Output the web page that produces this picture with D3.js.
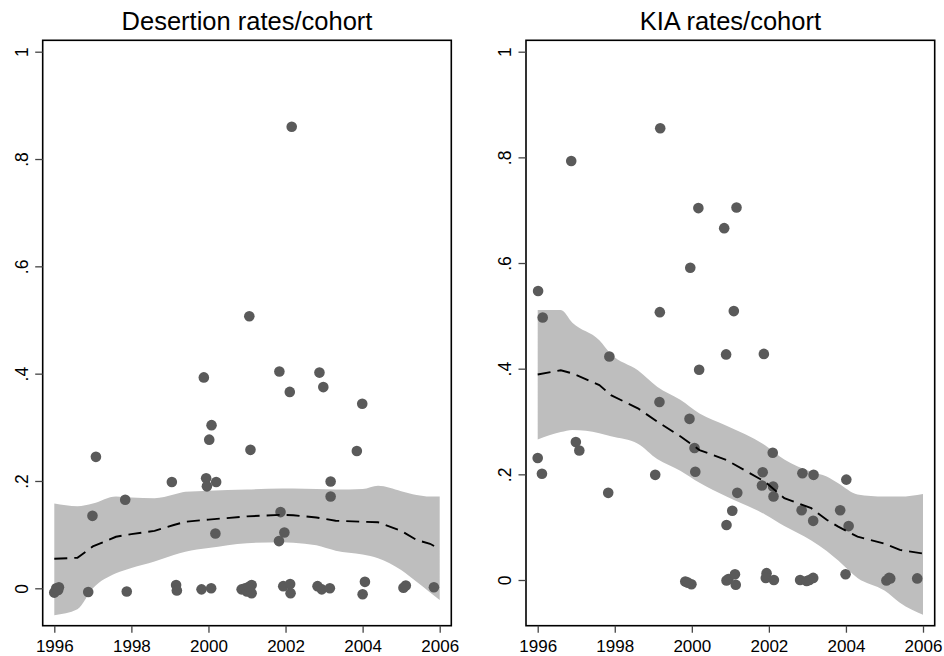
<!DOCTYPE html>
<html>
<head>
<meta charset="utf-8">
<script src="https://cdn.jsdelivr.net/npm/d3@7"></script>
<style>
  html, body { margin: 0; padding: 0; background: #fff; }
  svg { display: block; }
  text { font-family: "Liberation Sans", Arial, Helvetica, sans-serif; fill: #000; }
</style>
</head>
<body>
<svg id="chart" width="944" height="656"></svg>
<script>
// ---- Data: cohort rates by year of enlistment ----
const desertionYear = [
  2002.16, 2001.06, 1999.88, 2001.84, 2002.88, 2002.98, 2002.11, 2003.99,
  1997.08, 2000.08, 2000.02, 2001.09, 2003.85, 1999.05, 1999.94, 1999.96,
  2000.20, 2003.17, 2003.17, 1997.84, 1996.99, 2001.87, 2000.18, 2001.97, 2001.83,
  1996.00, 1996.05, 1996.12, 1996.10, 1996.88, 1997.88, 1999.16, 1999.18,
  1999.82, 2000.07, 2000.86, 2000.95, 2001.00, 2001.12, 2001.12, 2001.05,
  2001.94, 2002.12, 2002.13, 2002.83, 2002.94, 2003.15, 2004.06, 2004.00,
  2005.06, 2005.12, 2005.85
];
const desertionRate = [
  0.860, 0.507, 0.393, 0.404, 0.402, 0.375, 0.366, 0.344,
  0.245, 0.304, 0.277, 0.258, 0.256, 0.198, 0.205, 0.190,
  0.198, 0.199, 0.171, 0.165, 0.135, 0.142, 0.102, 0.104, 0.088,
  -0.008, 0.000, 0.002, -0.003, -0.007, -0.006, 0.006, -0.004,
  -0.002, 0.000, -0.002, 0.000, -0.006, 0.006, -0.009, 0.003,
  0.004, 0.008, -0.009, 0.004, -0.002, 0.000, 0.012, -0.011,
  0.001, 0.005, 0.002
];

const kiaYear = [
  1999.18, 1996.87, 2000.17, 2001.16, 2000.84, 1999.96, 1996.01, 1996.13,
  1999.17, 2001.09, 1997.86, 2000.89, 2001.87, 2000.19, 1999.16, 1999.94,
  1996.99, 1997.08, 1996.00, 1996.11, 2000.07, 2000.09, 1999.05, 1997.83,
  2002.10, 2001.84, 2001.82, 2002.11, 2002.12, 2001.18, 2001.05, 2000.90,
  2002.87, 2003.16, 2002.85, 2003.15, 2004.01, 2003.85, 2004.07,
  1999.83, 1999.99, 1999.90, 2000.95, 2000.90, 2001.12, 2001.14,
  2001.94, 2001.92, 2002.13, 2002.81, 2002.98, 2003.15, 2003.05,
  2003.99, 2005.05, 2005.12, 2005.15, 2005.85
];
const kiaRate = [
  0.855, 0.793, 0.704, 0.705, 0.666, 0.591, 0.547, 0.497,
  0.507, 0.509, 0.423, 0.427, 0.428, 0.398, 0.337, 0.305,
  0.261, 0.245, 0.231, 0.201, 0.250, 0.205, 0.199, 0.165,
  0.241, 0.204, 0.179, 0.177, 0.158, 0.165, 0.131, 0.104,
  0.202, 0.199, 0.132, 0.112, 0.190, 0.132, 0.102,
  -0.003, -0.008, -0.005, 0.002, -0.001, 0.011, -0.009,
  0.013, 0.004, 0.000, 0.000, -0.002, 0.004, 0.000,
  0.011, -0.001, 0.004, 0.003, 0.003
];

// ---- Smoothed fit with confidence band ----
const desertionFitYear = [1996, 1996.6, 1997.0, 1997.6, 1998.0, 1998.6, 1999.1, 1999.4, 2000.0, 2001.0,
                          2001.9, 2002.2, 2002.8, 2003.3, 2004.0, 2004.4, 2005.0, 2005.4, 2005.75, 2006];
const desertionFit   = [0.055, 0.057, 0.078, 0.096, 0.101, 0.107, 0.118, 0.124, 0.128, 0.134,
                        0.137, 0.136, 0.132, 0.126, 0.124, 0.123, 0.107, 0.090, 0.083, 0.073];
const desertionUpper = [0.158, 0.153, 0.158, 0.171, 0.169, 0.168, 0.175, 0.180, 0.182, 0.184,
                        0.186, 0.186, 0.185, 0.184, 0.185, 0.191, 0.181, 0.174, 0.171, 0.171];
const desertionLower = [-0.050, -0.039, 0.000, 0.028, 0.038, 0.050, 0.062, 0.068, 0.075, 0.084,
                        0.086, 0.085, 0.080, 0.070, 0.063, 0.056, 0.034, 0.012, -0.008, -0.022];

const kiaFitYear = [1996, 1996.6, 1996.9, 1997.6, 1997.9, 1998.6, 1999.1, 1999.7, 2000.2, 2000.9,
                    2001.9, 2002.4, 2003.1, 2003.5, 2003.8, 2004.3, 2005.0, 2005.4, 2006];
const kiaFit   = [0.389, 0.397, 0.391, 0.369, 0.350, 0.325, 0.300, 0.272, 0.246, 0.227,
                  0.186, 0.155, 0.136, 0.114, 0.101, 0.082, 0.069, 0.057, 0.050];
const kiaUpper = [0.511, 0.511, 0.487, 0.454, 0.428, 0.397, 0.366, 0.341, 0.315, 0.292,
                  0.255, 0.228, 0.205, 0.196, 0.183, 0.162, 0.158, 0.158, 0.163];
const kiaLower = [0.266, 0.280, 0.284, 0.278, 0.272, 0.258, 0.229, 0.207, 0.184, 0.158,
                  0.124, 0.102, 0.075, 0.055, 0.037, 0.004, -0.020, -0.043, -0.066];

// ---- Axis ticks ----
const xTickValues = [1996, 1998, 2000, 2002, 2004, 2006];
const yTickValues = [0, 0.2, 0.4, 0.6, 0.8, 1];
const yTickLabels = ["0", ".2", ".4", ".6", ".8", "1"];

// ---- Layout of the two panels ----
const panels = [
  {
    title: "Desertion rates/cohort",
    years: desertionYear, rates: desertionRate,
    fitYear: desertionFitYear, fit: desertionFit, lo: desertionLower, hi: desertionUpper,
    frame: { x0: 42.7, x1: 451.3, y0: 40.3, y1: 625.7 },
    xRange: [54.3, 439.7], yRange: [588.3, 51.7], labelX: 28
  },
  {
    title: "KIA rates/cohort",
    years: kiaYear, rates: kiaRate,
    fitYear: kiaFitYear, fit: kiaFit, lo: kiaLower, hi: kiaUpper,
    frame: { x0: 526, x1: 934.7, y0: 40.3, y1: 625.7 },
    xRange: [537.7, 923], yRange: [580, 51.7], labelX: 511
  }
];

const svg = d3.select("#chart");
svg.append("rect").attr("width", 944).attr("height", 656).attr("fill", "#fff");

panels.forEach(p => {
  const x = d3.scaleLinear().domain([1996, 2006]).range(p.xRange);
  const y = d3.scaleLinear().domain([0, 1]).range(p.yRange);
  const g = svg.append("g");
  const f = p.frame;

  // clip to the plot region
  const clipId = "clip-" + p.title.split(" ")[0];
  svg.append("clipPath").attr("id", clipId)
    .append("rect").attr("x", f.x0).attr("y", f.y0)
    .attr("width", f.x1 - f.x0).attr("height", f.y1 - f.y0);
  const plot = g.append("g").attr("clip-path", `url(#${clipId})`);

  const band = p.fitYear.map((yr, i) => ({ yr, lo: p.lo[i], hi: p.hi[i], fit: p.fit[i] }));

  // confidence band
  plot.append("path")
    .datum(band)
    .attr("fill", "#bebebe")
    .attr("d", d3.area()
      .x(d => x(d.yr))
      .y0(d => y(d.lo))
      .y1(d => y(d.hi))
      .curve(d3.curveMonotoneX));

  // scatter of cohort rates
  plot.append("g").selectAll("circle")
    .data(p.years.map((yr, i) => ({ yr, v: p.rates[i] })))
    .join("circle")
    .attr("cx", d => x(d.yr))
    .attr("cy", d => y(d.v))
    .attr("r", 5.3)
    .attr("fill", "#5a5a5a");

  // fitted line
  plot.append("path")
    .datum(band)
    .attr("fill", "none")
    .attr("stroke", "#000")
    .attr("stroke-width", 1.9)
    .attr("stroke-dasharray", "13,7")
    .attr("d", d3.line().x(d => x(d.yr)).y(d => y(d.fit)));

  // frame
  g.append("rect")
    .attr("x", f.x0).attr("y", f.y0)
    .attr("width", f.x1 - f.x0).attr("height", f.y1 - f.y0)
    .attr("fill", "none").attr("stroke", "#000").attr("stroke-width", 1.6);

  // x axis
  const xAxis = g.append("g")
    .attr("transform", `translate(0,${f.y1})`)
    .call(d3.axisBottom(x).tickValues(xTickValues).tickFormat(d3.format("d"))
      .tickSize(7).tickSizeOuter(0).tickPadding(4));
  xAxis.select(".domain").remove();
  xAxis.selectAll(".tick line").attr("stroke", "#444").attr("stroke-width", 1.3);
  xAxis.selectAll(".tick text")
    .attr("font-size", "17px")
    .attr("font-family", "Liberation Sans, Arial, sans-serif")
    .attr("fill", "#000")
    .attr("dy", null)
    .attr("y", 26.3);

  // y axis
  const yAxis = g.append("g")
    .attr("transform", `translate(${f.x0},0)`)
    .call(d3.axisLeft(y).tickValues(yTickValues)
      .tickFormat((d, i) => yTickLabels[i])
      .tickSize(7.5).tickSizeOuter(0));
  yAxis.select(".domain").remove();
  yAxis.selectAll(".tick line").attr("stroke", "#444").attr("stroke-width", 1.3);
  yAxis.selectAll(".tick text").remove();
  yAxis.selectAll(".tick")
    .append("text")
    .attr("transform", `translate(${p.labelX - f.x0},0) rotate(-90)`)
    .attr("text-anchor", "middle")
    .attr("font-size", "17.5px")
    .attr("font-family", "Liberation Sans, Arial, sans-serif")
    .attr("fill", "#000")
    .text((d, i) => yTickLabels[i]);

  // title
  g.append("text")
    .attr("x", (f.x0 + f.x1) / 2)
    .attr("y", 30)
    .attr("text-anchor", "middle")
    .attr("font-size", "25.5px")
    .text(p.title);
});
</script>
</body>
</html>
